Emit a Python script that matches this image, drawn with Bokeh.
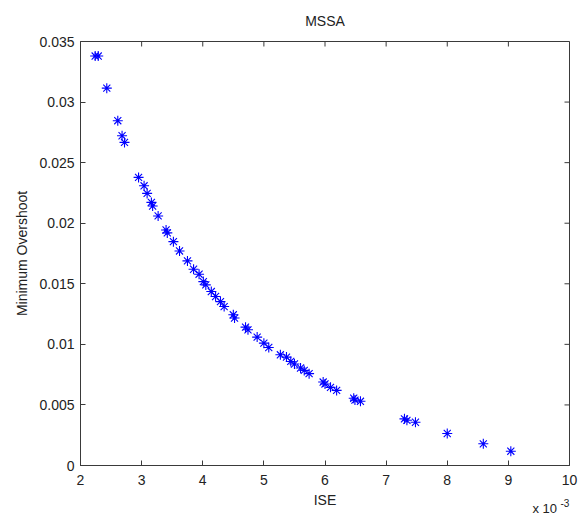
import math
from bokeh.plotting import figure
from bokeh.models import Range1d, FixedTicker, Label
from bokeh.embed import file_html
from bokeh.resources import INLINE

# ---- data (ISE in units of 1e-3) ----
ise = [2.24, 2.29, 2.43, 2.61, 2.68, 2.72,
       2.95, 3.04, 3.09, 3.16, 3.18, 3.27, 3.40, 3.42, 3.52, 3.62, 3.75, 3.85, 3.94,
       4.01, 4.05, 4.14, 4.21, 4.29, 4.35, 4.50, 4.52, 4.70, 4.74, 4.89, 5.00, 5.08, 5.27, 5.37,
       5.44, 5.50, 5.60, 5.66, 5.74, 5.97, 6.00, 6.09, 6.19,
       6.47, 6.49, 6.58,
       7.30, 7.34, 7.48, 8.00, 8.59, 9.04]
overshoot = [0.0338, 0.0338, 0.03115, 0.02846, 0.02722, 0.02667,
             0.02378, 0.02309, 0.02246, 0.02172, 0.02142, 0.0206, 0.01944, 0.0192, 0.01848, 0.01771, 0.01689, 0.0162, 0.01579,
             0.01518, 0.01491, 0.01436, 0.01395, 0.01353, 0.01312, 0.01244, 0.01217, 0.01142, 0.0112, 0.0106, 0.0101, 0.00974, 0.00914, 0.00895,
             0.00859, 0.00838, 0.00805, 0.00785, 0.00758, 0.00689, 0.00673, 0.00645, 0.0062,
             0.00555, 0.0054, 0.0053,
             0.00385, 0.00373, 0.00357, 0.00264, 0.00179, 0.00118]

xticks = [2, 3, 4, 5, 6, 7, 8, 9, 10]
yticks = [0, 0.005, 0.01, 0.015, 0.02, 0.025, 0.03, 0.035]
ytick_labels = ["0", "0.005", "0.01", "0.015", "0.02", "0.025", "0.03", "0.035"]

title_text = "MSSA"
xlabel = "ISE"
ylabel = "Minimum Overshoot"
exp_base = "x 10"
exp_power = "-3"

FONT = "Liberation Sans"
AX = "#3a3a3a"
TXT = "#222222"
XMIN, XMAX = xticks[0], xticks[-1]
YMIN, YMAX = yticks[0], yticks[-1]

p = figure(width=585, height=515, x_range=Range1d(XMIN, XMAX), y_range=Range1d(YMIN, YMAX),
           output_backend="svg", toolbar_location=None, title=None,
           min_border_left=80, min_border_right=16, min_border_top=41, min_border_bottom=50)
p.background_fill_color = "white"
p.border_fill_color = "white"
p.outline_line_color = AX
p.xgrid.visible = False
p.ygrid.visible = False

def style(ax):
    ax.axis_line_color = AX
    ax.major_tick_line_color = AX
    ax.major_tick_in = 5
    ax.major_tick_out = 0
    ax.minor_tick_line_color = None
    ax.major_label_text_font = FONT
    ax.major_label_text_font_size = "14px"
    ax.major_label_text_color = TXT
    ax.axis_label_text_font = FONT
    ax.axis_label_text_font_size = "14px"
    ax.axis_label_text_font_style = "normal"
    ax.axis_label_text_color = TXT

xa = p.xaxis[0]
xa.ticker = FixedTicker(ticks=xticks)
xa.axis_label = xlabel
xa.major_label_standoff = 9
xa.axis_label_standoff = 4
style(xa)

ya = p.yaxis[0]
ya.ticker = FixedTicker(ticks=yticks)
ya.major_label_overrides = {t: s for t, s in zip(yticks, ytick_labels)}
ya.axis_label = ylabel
ya.major_label_standoff = 6
ya.axis_label_standoff = 6
style(ya)

# inward ticks on the top and right edges of the box
p.ray(x=xticks, y=[YMAX] * len(xticks), length=5, length_units="screen",
      angle=-math.pi / 2, line_color=AX, line_width=1)
p.ray(x=[XMAX] * len(yticks), y=yticks, length=5, length_units="screen",
      angle=math.pi, line_color=AX, line_width=1)

p.scatter(ise, overshoot, marker="asterisk", size=10, line_color="#0000ff", line_width=1.1)

# texts outside the frame live in the top side panel (unclipped)
p.add_layout(Label(x=244.5, y=21, x_units="screen", y_units="screen", text=title_text,
                   text_font=FONT, text_font_size="14px", text_color=TXT,
                   text_baseline="alphabetic", text_align="center"), "above")
p.add_layout(Label(x=452, y=-483, x_units="screen", y_units="screen", text=exp_base,
                   text_font=FONT, text_font_size="13px", text_color=TXT,
                   text_baseline="alphabetic", text_align="left"), "above")
p.add_layout(Label(x=480, y=-492, x_units="screen", y_units="screen", text=exp_power,
                   text_font=FONT, text_font_size="10px", text_color=TXT,
                   text_baseline="alphabetic", text_align="left"), "above")

open("out.html", "w").write(file_html(p, INLINE))
